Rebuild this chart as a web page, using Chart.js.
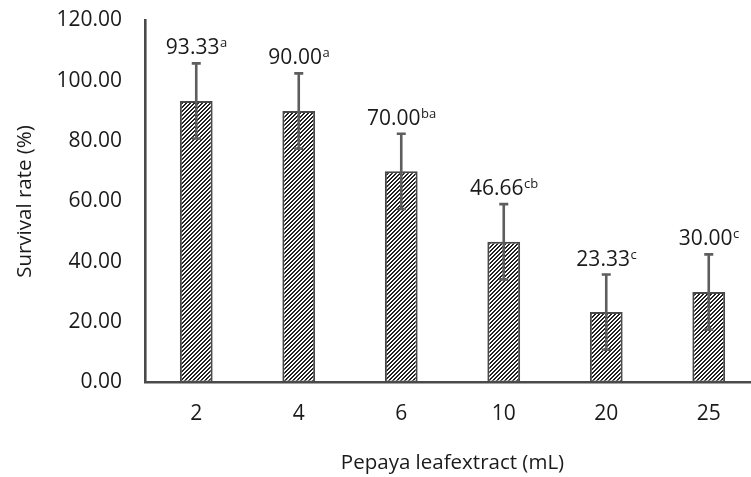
<!DOCTYPE html>
<html>
<head>
<meta charset="utf-8">
<script src="https://cdn.jsdelivr.net/npm/chart.js@4"></script>
<style>
html,body{margin:0;padding:0;background:#fff;overflow:hidden;width:751px;height:477px}
#wrap{position:absolute;left:0;top:0;width:762px;height:477px}
</style>
</head>
<body>
<div id="wrap"><canvas id="c" width="762" height="477"></canvas></div>
<script>
// ---- data ----
const categories = ['2', '4', '6', '10', '20', '25'];
const survival = [93.33, 90.00, 70.00, 46.66, 23.33, 30.00];
const errors = [12.47, 12.47, 12.47, 12.47, 12.47, 12.47];
const letters = ['a', 'a', 'ba', 'cb', 'c', 'c'];
const yMin = 0, yMax = 120, yStep = 20;
const xTitle = 'Pepaya leafextract (mL)';
const yTitle = 'Survival rate (%)';

const FONT = "'Open Sans', 'Noto Sans', sans-serif";
const TEXT = '#1a1a1a';

const ctx = document.getElementById('c').getContext('2d');

function makeHatch() {
  const p = 4;
  const t = document.createElement('canvas');
  t.width = p; t.height = p;
  const g = t.getContext('2d');
  g.fillStyle = '#ffffff';
  g.fillRect(0, 0, p, p);
  g.fillStyle = '#222222';
  for (let y = 0; y < p; y++) {
    for (let x = 0; x < p; x++) {
      const k = (x + y) % p;
      if (k === 0 || k === 1) g.fillRect(x, y, 1, 1);
    }
  }
  return ctx.createPattern(t, 'repeat');
}

const errorBarPlugin = {
  id: 'errorBars',
  afterDatasetsDraw(chart) {
    const meta = chart.getDatasetMeta(0);
    const ys = chart.scales.y;
    const c = chart.ctx;
    c.save();
    c.strokeStyle = '#5e5e5e';
    c.lineWidth = 2.6;
    c.lineCap = 'butt';
    meta.data.forEach((bar, i) => {
      const v = survival[i], e = errors[i];
      const yt = ys.getPixelForValue(v + e);
      const yb = ys.getPixelForValue(v - e);
      const x = bar.x;
      c.beginPath();
      c.moveTo(x, yt); c.lineTo(x, yb);
      c.moveTo(x - 4.5, yt); c.lineTo(x + 4.5, yt);
      c.moveTo(x - 4.5, yb); c.lineTo(x + 4.5, yb);
      c.stroke();
    });
    // value labels with superscript letters
    meta.data.forEach((bar, i) => {
      const v = survival[i], e = errors[i];
      const capY = ys.getPixelForValue(v + e);
      const base = capY - 9;
      const main = v.toFixed(2);
      c.font = '21px ' + FONT;
      const wm = c.measureText(main).width;
      c.font = '13px ' + FONT;
      const ws = c.measureText(letters[i]).width;
      const x0 = bar.x - (wm + ws) / 2;
      c.fillStyle = TEXT;
      c.textAlign = 'left';
      c.textBaseline = 'alphabetic';
      c.font = '21px ' + FONT;
      c.fillText(main, x0, base);
      c.font = '13px ' + FONT;
      c.fillText(letters[i], x0 + wm + 0.5, base - 7);
    });
    c.restore();
  }
};

const bgPlugin = {
  id: 'bg',
  beforeDraw(chart) {
    const c = chart.ctx;
    c.save();
    c.fillStyle = '#ffffff';
    c.fillRect(0, 0, chart.width, chart.height);
    c.restore();
  }
};

new Chart(ctx, {
  type: 'bar',
  data: {
    labels: categories,
    datasets: [{
      data: survival,
      backgroundColor: makeHatch(),
      borderColor: '#4a4a4a',
      borderWidth: 2,
      borderSkipped: false,
      categoryPercentage: 1.0,
      barPercentage: 0.32
    }]
  },
  options: {
    responsive: false,
    animation: false,
    devicePixelRatio: 1,
    layout: { padding: { top: 20.5, right: 2, bottom: 0, left: 0 } },
    plugins: {
      legend: { display: false },
      tooltip: { enabled: false }
    },
    scales: {
      x: {
        grid: { display: false, drawTicks: false },
        border: { display: true, color: '#4a4a4a', width: 2.6 },
        ticks: { color: TEXT, font: { family: FONT, size: 21 }, padding: 19 },
        title: { display: true, text: xTitle, color: TEXT, font: { family: FONT, size: 20.5 }, padding: { top: 0, bottom: 2 } },
        afterFit(s) { s.height = 94.5; s.paddingLeft = 0; s.paddingRight = 0; }
      },
      y: {
        min: yMin, max: yMax,
        grid: { display: false, drawTicks: false },
        border: { display: true, color: '#4a4a4a', width: 2.6 },
        ticks: {
          stepSize: yStep, color: TEXT, font: { family: FONT, size: 21 }, padding: 23,
          callback: (v) => Number(v).toFixed(2)
        },
        title: { display: true, text: yTitle, color: TEXT, font: { family: FONT, size: 20.5 }, padding: { top: 13, bottom: 0 } },
        afterFit(s) { s.width = 145; s.paddingTop = 0; s.paddingBottom = 0; }
      }
    }
  },
  plugins: [bgPlugin, errorBarPlugin]
});
</script>
</body>
</html>
